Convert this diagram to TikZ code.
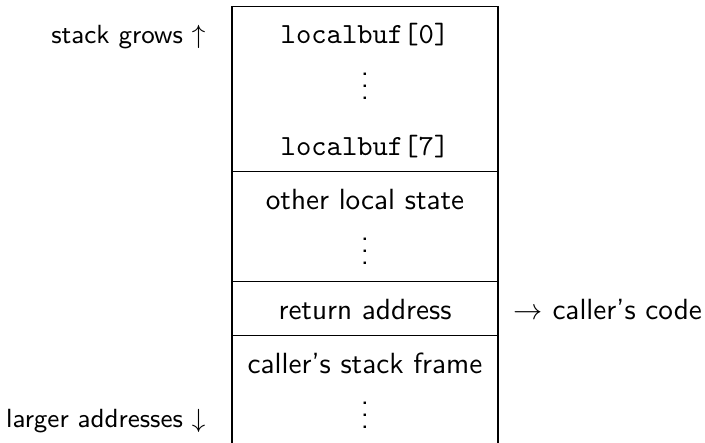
\documentclass[tikz,border=0pt]{standalone}
% three stacked dots, like \vdots but without the space above them
\newcommand{\stackdots}{\vbox{\baselineskip4pt\lineskiplimit0pt\hbox{.}\hbox{.}\hbox{.}}}
\begin{document}
\begin{tikzpicture}[x=0.3425pt,y=-0.3425pt,
  frame/.style={line width=0.4pt},
  cell/.style={anchor=base,inner sep=0pt,font=\sffamily},
  bufcell/.style={anchor=base,inner sep=0pt,font=\ttfamily},
  leftnote/.style={anchor=base east,inner sep=0pt,font=\sffamily\small},
  rightnote/.style={anchor=base west,inner sep=0pt,font=\sffamily}]
\useasboundingbox (0,0) rectangle (705,443);
% frame of the stack
\coordinate (tl) at (232,6.5);
\coordinate (tr) at (498,6.5);
\coordinate (bl) at (232,443);
\coordinate (br) at (498,443);
\draw[frame] (bl) -- (tl) -- (tr) -- (br);
\draw[frame] (232,171.5) -- (498,171.5);
\draw[frame] (232,281.5) -- (498,281.5);
\draw[frame] (232,335.5) -- (498,335.5);
% cells
\node[bufcell] (buf0) at (365,43.3) {localbuf[0]};
\node[cell] (bufdots) at (365,99) {\stackdots};
\node[bufcell] (buf7) at (365,155) {localbuf[7]};
\node[cell] (other) at (365,209) {other local state};
\node[cell] (otherdots) at (365,264) {\stackdots};
\node[cell] (ret) at (365,319) {return address};
\node[cell] (caller) at (365,373.3) {caller's stack frame};
\node[cell] (callerdots) at (365,428) {\stackdots};
% side notes
\node[leftnote] (grows) at (206,43.3) {stack grows $\uparrow$};
\node[leftnote] (larger) at (206,427) {larger addresses $\downarrow$};
\node[rightnote] (code) at (513,319) {$\rightarrow$ caller's code};
\end{tikzpicture}
\end{document}
